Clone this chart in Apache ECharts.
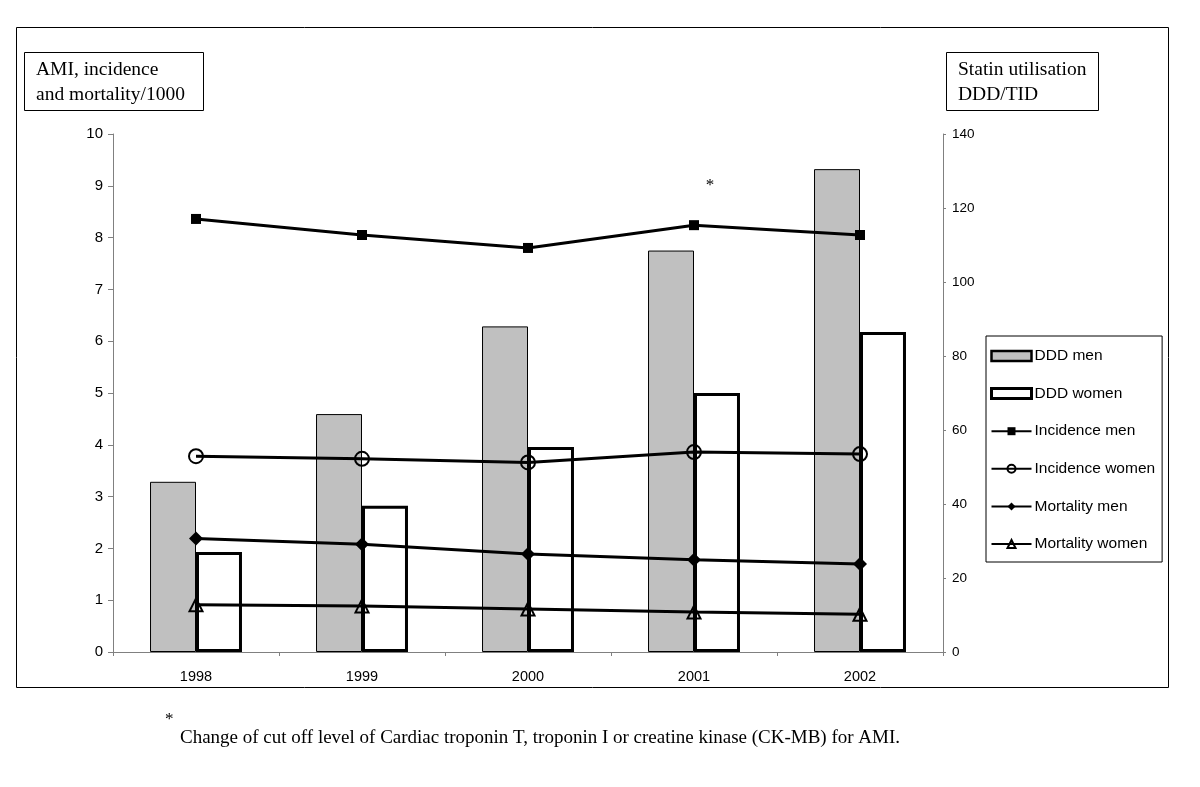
<!DOCTYPE html>
<html><head><meta charset="utf-8">
<script src="https://cdn.jsdelivr.net/npm/echarts@6/dist/echarts.min.js"></script>
<style>html,body{margin:0;padding:0;background:#fff}#c{width:1200px;height:787px}</style>
</head><body><div id="c"></div>
<script>
const years = ['1998','1999','2000','2001','2002'];
const dddMen = [46, 64.3, 88, 108.5, 130.5];
const dddWomen = [27, 39.5, 55.4, 70, 86.5];
const incidenceMen = [8.36, 8.05, 7.80, 8.24, 8.05];
const incidenceWomen = [3.78, 3.73, 3.66, 3.86, 3.82];
const mortalityMen = [2.19, 2.08, 1.89, 1.78, 1.70];
const mortalityWomen = [0.91, 0.89, 0.83, 0.77, 0.73];
const leftTicks = [0,1,2,3,4,5,6,7,8,9,10];
const rightTicks = [0,20,40,60,80,100,120,140];

const chart = echarts.init(document.getElementById('c'));
const sans = 'Liberation Sans, Arial, sans-serif';
const serif = 'Liberation Serif, Times New Roman, serif';
const lineStyle = {color:'#000', width:3};
function lineSeries(name, data, symbol, size, filled){
  return {
    name, type:'line', data, yAxisIndex:0, z:5,
    symbol, symbolSize:size,
    lineStyle,
    itemStyle: filled ? {color:'#000'} : {color:'rgba(0,0,0,0)', borderColor:'#000', borderWidth:2},
    emphasis:{disabled:true}
  };
}
const option = {
  animation:false,
  textStyle:{fontFamily:sans},
  grid:{left:113, right:257, top:134, bottom:135},
  legend:{
    orient:'vertical', left:986, top:336,
    padding:[12,7,10,4], itemGap:21.6, itemWidth:40, itemHeight:10,
    borderColor:'#000', borderWidth:1,
    textStyle:{fontFamily:sans, fontSize:15.5, color:'#000', padding:[0,0,0,-2]},
    data:[
      {name:'DDD men', icon:'rect', itemStyle:{borderWidth:2.5, borderColor:'#000'}},
      {name:'DDD women', icon:'rect', itemStyle:{borderWidth:3, borderColor:'#000'}},
      'Incidence men','Incidence women','Mortality men','Mortality women']
  },
  xAxis:{
    type:'category', data:years,
    axisLine:{lineStyle:{color:'#808080'}},
    axisTick:{show:true, lineStyle:{color:'#808080'}, length:4},
    axisLabel:{color:'#000', fontSize:14.5, margin:17, fontFamily:sans}
  },
  yAxis:[
    {type:'value', min:0, max:10, interval:1, position:'left',
     axisLine:{show:true, lineStyle:{color:'#808080'}},
     axisTick:{show:true, length:5, lineStyle:{color:'#808080'}},
     axisLabel:{color:'#000', fontSize:15, margin:10, fontFamily:sans,
       formatter:v=>leftTicks.includes(v)?String(v):''},
     splitLine:{show:false}},
    {type:'value', min:0, max:140, interval:20, position:'right',
     axisLine:{show:true, lineStyle:{color:'#808080'}},
     axisTick:{show:true, length:3, lineStyle:{color:'#808080'}},
     axisLabel:{color:'#000', fontSize:13.5, margin:9, fontFamily:sans,
       formatter:v=>rightTicks.includes(v)?String(v):''},
     splitLine:{show:false}}
  ],
  series:[
    {name:'DDD men', type:'bar', data:dddMen, yAxisIndex:1, barGap:'0%', barCategoryGap:'44.6%',
     itemStyle:{color:'#c0c0c0', borderColor:'#000', borderWidth:1}, emphasis:{disabled:true}},
    {name:'DDD women', type:'bar', data:dddWomen, yAxisIndex:1, barGap:'0%', barCategoryGap:'44.6%',
     itemStyle:{color:'#fff', borderColor:'#000', borderWidth:3}, emphasis:{disabled:true}},
    Object.assign(lineSeries('Incidence men', incidenceMen, 'rect', 10, true), {
      markPoint:{
        symbol:'circle', symbolSize:1, itemStyle:{color:'rgba(0,0,0,0)'},
        label:{show:true, formatter:'*', color:'#000', fontFamily:serif, fontSize:17, offset:[16,3]},
        data:[{coord:['2001', 9.07]}]
      }
    }),
    lineSeries('Incidence women', incidenceWomen, 'circle', 14, false),
    lineSeries('Mortality men', mortalityMen, 'diamond', 14, true),
    lineSeries('Mortality women', mortalityWomen, 'triangle', 13, false)
  ],
  graphic:[
    {type:'rect', shape:{x:16.5, y:27.5, width:1152, height:660}, style:{fill:'none', stroke:'#000', lineWidth:1}, silent:true},
    {type:'rect', shape:{x:24.5, y:52.5, width:179, height:58}, style:{fill:'#fff', stroke:'#000', lineWidth:1}, silent:true},
    {type:'text', left:36, top:57, style:{text:'AMI, incidence\nand mortality/1000', font:'19.5px '+serif, fill:'#000', lineHeight:25}},
    {type:'rect', shape:{x:946.5, y:52.5, width:152, height:58}, style:{fill:'#fff', stroke:'#000', lineWidth:1}, silent:true},
    {type:'text', left:958, top:57, style:{text:'Statin utilisation\nDDD/TID', font:'19.5px '+serif, fill:'#000', lineHeight:25}},
    {type:'text', left:165, top:711, style:{text:'*', font:'17px '+serif, fill:'#000'}},
    {type:'text', left:180, top:729, style:{text:'Change of cut off level of Cardiac troponin T, troponin I or creatine kinase (CK-MB) for AMI.', font:'19px '+serif, fill:'#000'}}
  ]
};
chart.setOption(option);
</script>
</body></html>
